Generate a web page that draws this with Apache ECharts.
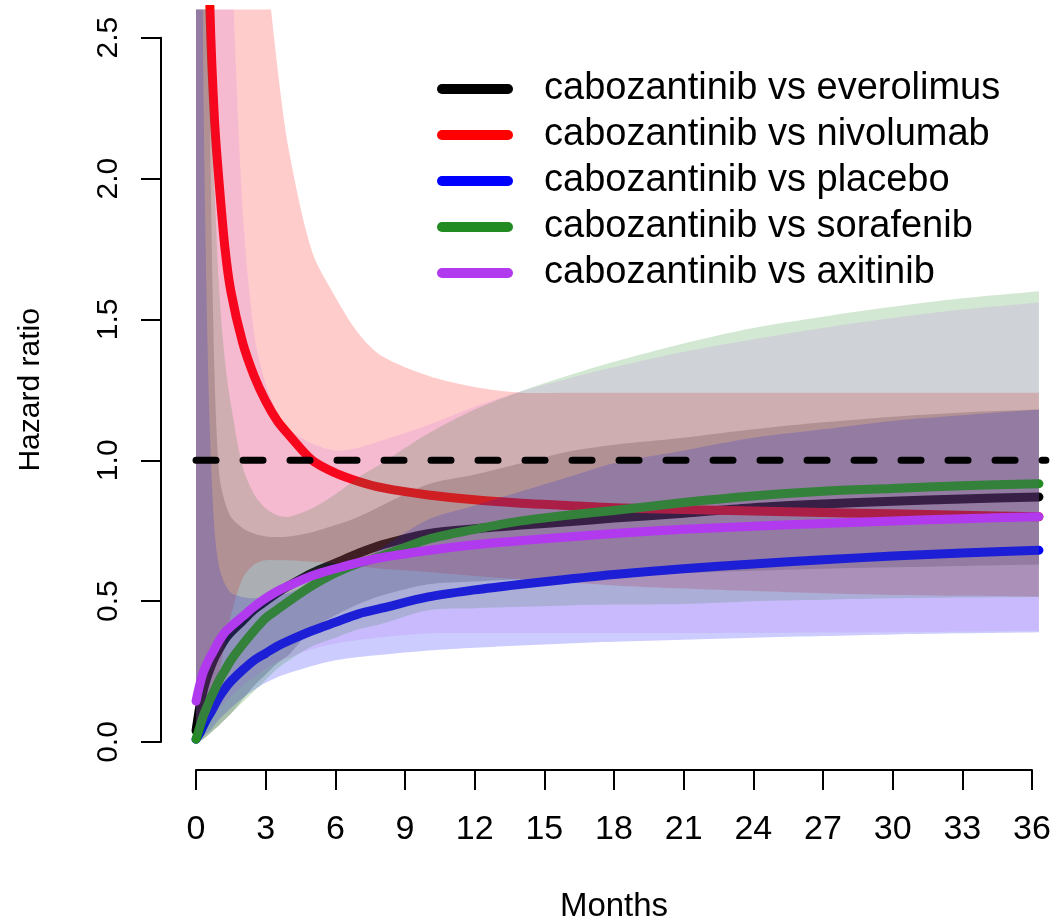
<!DOCTYPE html>
<html>
<head>
<meta charset="utf-8">
<script src="https://cdn.jsdelivr.net/npm/echarts@6/dist/echarts.min.js"></script>
<style>
  html, body { margin: 0; background: #fff; }
  #chart { width: 1064px; height: 919px; }
</style>
</head>
<body>
<div id="chart"></div>
<script>
const months = [0, 0.15, 0.3, 0.45, 0.6, 0.8, 1, 1.25, 1.5, 2, 2.5, 3, 3.5, 4, 5, 6, 7, 8, 10, 12, 14, 16, 18, 21, 24, 27, 30, 33, 36.3];

const xTicks = [0, 3, 6, 9, 12, 15, 18, 21, 24, 27, 30, 33, 36];
const yTicks = [0, 0.5, 1, 1.5, 2, 2.5];
const refHR = 1;
const refSpan = [0, 36.6];

const names = [
  'cabozantinib vs everolimus',
  'cabozantinib vs nivolumab',
  'cabozantinib vs placebo',
  'cabozantinib vs sorafenib',
  'cabozantinib vs axitinib'
];
const colors = ['#000000', '#ff0000', '#0000ff', '#228b22', '#b23aee'];

// hazard ratio curves
const hrEverolimus = [0.04, 0.12, 0.18, 0.225, 0.26, 0.3, 0.33, 0.365, 0.39, 0.43, 0.47, 0.5, 0.53, 0.555, 0.6, 0.635, 0.67, 0.70, 0.74, 0.757, 0.77, 0.782, 0.795, 0.812, 0.832, 0.845, 0.855, 0.863, 0.87];
const hrNivolumab = [null, 9, 4.8, 3.3, 2.6, 2.2, 1.98, 1.75, 1.6, 1.42, 1.3, 1.21, 1.14, 1.09, 1.0, 0.955, 0.925, 0.903, 0.877, 0.86, 0.848, 0.84, 0.832, 0.825, 0.82, 0.815, 0.81, 0.805, 0.80];
const hrPlacebo = [0.01, 0.03, 0.055, 0.08, 0.1, 0.13, 0.16, 0.19, 0.215, 0.255, 0.29, 0.315, 0.34, 0.36, 0.395, 0.425, 0.455, 0.475, 0.515, 0.54, 0.56, 0.578, 0.595, 0.615, 0.632, 0.647, 0.66, 0.671, 0.681];
const hrSorafenib = [0.01, 0.05, 0.09, 0.12, 0.15, 0.185, 0.22, 0.255, 0.29, 0.345, 0.395, 0.44, 0.47, 0.5, 0.555, 0.6, 0.635, 0.66, 0.72, 0.755, 0.785, 0.805, 0.822, 0.85, 0.873, 0.89, 0.9, 0.91, 0.917];
const hrAxitinib = [0.145, 0.2, 0.245, 0.275, 0.30, 0.33, 0.36, 0.39, 0.41, 0.445, 0.48, 0.51, 0.535, 0.555, 0.59, 0.615, 0.637, 0.655, 0.68, 0.70, 0.715, 0.728, 0.74, 0.755, 0.766, 0.776, 0.785, 0.793, 0.80];

// 95% bands (lower / upper); values above the plot run off the top
const loEverolimus = [0, 0.005, 0.01, 0.02, 0.03, 0.045, 0.06, 0.08, 0.1, 0.15, 0.2, 0.24, 0.28, 0.31, 0.4, 0.45, 0.49, 0.52, 0.56, 0.57, 0.578, 0.585, 0.59, 0.6, 0.608, 0.615, 0.62, 0.625, 0.63];
const hiEverolimus = [30, 20, 8, 3.5, 2.2, 1.3, 0.95, 0.85, 0.8, 0.76, 0.74, 0.73, 0.728, 0.73, 0.745, 0.77, 0.8, 0.84, 0.915, 0.95, 0.99, 1.03, 1.055, 1.08, 1.11, 1.135, 1.155, 1.17, 1.18];
const loNivolumab = [0.02, 0.04, 0.07, 0.1, 0.13, 0.18, 0.25, 0.35, 0.45, 0.58, 0.63, 0.645, 0.645, 0.645, 0.64, 0.635, 0.625, 0.615, 0.604, 0.59, 0.577, 0.566, 0.556, 0.545, 0.536, 0.528, 0.522, 0.519, 0.516];
const hiNivolumab = [30, 30, 25, 20, 15, 12, 10, 8, 6.5, 4.5, 3.4, 2.8, 2.4, 2.1, 1.74, 1.58, 1.45, 1.37, 1.3, 1.26, 1.24, 1.24, 1.24, 1.24, 1.24, 1.24, 1.24, 1.24, 1.24];
const loPlacebo = [0.005, 0.01, 0.02, 0.03, 0.04, 0.06, 0.08, 0.1, 0.12, 0.155, 0.185, 0.21, 0.23, 0.245, 0.27, 0.29, 0.302, 0.31, 0.325, 0.335, 0.343, 0.35, 0.356, 0.363, 0.37, 0.376, 0.382, 0.386, 0.39];
const hiPlacebo = [30, 20, 2.6, 1.6, 1.1, 0.75, 0.62, 0.56, 0.53, 0.515, 0.51, 0.515, 0.52, 0.53, 0.56, 0.6, 0.64, 0.69, 0.79, 0.84, 0.89, 0.94, 0.99, 1.035, 1.08, 1.11, 1.14, 1.16, 1.18];
const loSorafenib = [0, 0.002, 0.01, 0.02, 0.03, 0.045, 0.06, 0.08, 0.1, 0.14, 0.18, 0.22, 0.26, 0.29, 0.34, 0.37, 0.4, 0.42, 0.468, 0.475, 0.48, 0.485, 0.488, 0.49, 0.5, 0.505, 0.51, 0.513, 0.515];
const hiSorafenib = [30, 10, 4, 2.6, 2.3, 1.95, 1.6, 1.35, 1.2, 0.98, 0.88, 0.83, 0.805, 0.8, 0.83, 0.88, 0.94, 0.99, 1.095, 1.18, 1.245, 1.3, 1.35, 1.415, 1.47, 1.51, 1.545, 1.575, 1.60];
const loAxitinib = [0.01, 0.03, 0.05, 0.065, 0.08, 0.1, 0.12, 0.14, 0.16, 0.2, 0.23, 0.26, 0.285, 0.3, 0.33, 0.35, 0.362, 0.372, 0.386, 0.387, 0.387, 0.387, 0.387, 0.387, 0.388, 0.389, 0.39, 0.392, 0.395];
const hiAxitinib = [30, 30, 20, 12, 8, 5.5, 4.2, 3.4, 2.85, 1.9, 1.45, 1.27, 1.17, 1.11, 1.06, 1.035, 1.045, 1.07, 1.125, 1.19, 1.245, 1.29, 1.33, 1.385, 1.43, 1.47, 1.505, 1.535, 1.56];

const curves = [
  { hr: hrEverolimus, lo: loEverolimus, hi: hiEverolimus, alpha: 0.2 },
  { hr: hrNivolumab, lo: loNivolumab, hi: hiNivolumab, alpha: 0.2 },
  { hr: hrPlacebo, lo: loPlacebo, hi: hiPlacebo, alpha: 0.2 },
  { hr: hrSorafenib, lo: loSorafenib, hi: hiSorafenib, alpha: 0.2 },
  { hr: hrAxitinib, lo: loAxitinib, hi: hiAxitinib, alpha: 0.12 }
];

const font = '"Liberation Sans", Arial, sans-serif';
const chart = echarts.init(document.getElementById('chart'));

// one polygon per band: upper edge left to right, lower edge back.
// end points are doubled so the smoothing keeps the side edges straight
function bandItem(c, color) {
  return function (params, api) {
    if (params.dataIndex !== 0) return null;
    const n = months.length;
    const pts = [];
    for (let i = 0; i < n; i++) {
      const p = api.coord([months[i], c.hi[i]]);
      pts.push(p);
      if (i === 0 || i === n - 1) pts.push(p.slice());
    }
    for (let i = n - 1; i >= 0; i--) {
      const p = api.coord([months[i], c.lo[i]]);
      pts.push(p);
      if (i === 0 || i === n - 1) pts.push(p.slice());
    }
    return {
      type: 'polygon',
      shape: { points: pts, smooth: 0.3 },
      style: { fill: color, opacity: c.alpha },
      silent: true
    };
  };
}

// each band is painted, then its curve, so later bands tint earlier curves
const series = [];
curves.forEach((c, k) => {
  series.push({
    name: 'band' + k, type: 'custom', coordinateSystem: 'cartesian2d',
    xAxisIndex: 0, yAxisIndex: 0, clip: true, silent: true, z: 2 + 2 * k,
    renderItem: bandItem(c, colors[k]),
    encode: { x: 0, y: [1, 2] },
    data: months.map((m, i) => [m, c.lo[i], c.hi[i]])
  });
  series.push({
    name: names[k], type: 'line', xAxisIndex: 0, yAxisIndex: 0,
    symbol: 'none', smooth: 0.3, silent: true, z: 3 + 2 * k,
    itemStyle: { color: colors[k] },
    lineStyle: { color: colors[k], width: 9, cap: 'round', join: 'round' },
    data: months.map((m, i) => [m, c.hr[i]])
  });
});

series.push({
  name: 'ref', type: 'line', xAxisIndex: 0, yAxisIndex: 0,
  symbol: 'none', silent: true, z: 20,
  lineStyle: { color: '#000', width: 7, type: [20, 27], cap: 'round' },
  data: refSpan.map(m => [m, refHR])
});

const option = {
  animation: false,
  backgroundColor: '#fff',
  textStyle: { fontFamily: font },
  grid: [
    { left: 161.2, top: 9.6, width: 905.6, height: 760.6, outerBoundsMode: 'none', containLabel: false },
    { left: 196, top: 37.7, width: 836, height: 704.3, outerBoundsMode: 'none', containLabel: false }
  ],
  xAxis: [
    { gridIndex: 0, type: 'value', min: -1.5, max: 37.5, show: false },
    {
      gridIndex: 1, type: 'value', min: 0, max: 36, interval: 3,
      position: 'bottom', offset: 28,
      axisLine: { show: true, onZero: false, lineStyle: { color: '#000', width: 2 } },
      axisTick: { show: true, length: 20, lineStyle: { color: '#000', width: 2 }, customValues: xTicks },
      axisLabel: { color: '#000', fontSize: 34, fontFamily: font, margin: 43, customValues: xTicks },
      splitLine: { show: false },
      name: 'Months', nameLocation: 'middle', nameGap: 120,
      nameTextStyle: { color: '#000', fontSize: 33, fontFamily: font }
    }
  ],
  yAxis: [
    { gridIndex: 0, type: 'value', min: -0.1, max: 2.6, show: false },
    {
      gridIndex: 1, type: 'value', min: 0, max: 2.5, interval: 0.5,
      position: 'left', offset: 35,
      axisLine: { show: true, onZero: false, lineStyle: { color: '#000', width: 2 } },
      axisTick: { show: true, length: 20, lineStyle: { color: '#000', width: 2 }, customValues: yTicks },
      axisLabel: {
        color: '#000', fontSize: 30, fontFamily: font, rotate: 90, margin: 37,
        customValues: yTicks, formatter: v => v.toFixed(1)
      },
      splitLine: { show: false },
      name: 'Hazard ratio', nameLocation: 'middle', nameRotate: 90, nameGap: 115,
      nameTextStyle: { color: '#000', fontSize: 30, fontFamily: font }
    }
  ],
  legend: {
    data: names, orient: 'vertical', left: 432, top: 65, z: 30,
    itemWidth: 76, itemHeight: 10, itemGap: 8, selectedMode: false,
    icon: 'path://M5 0H71A5 5 0 0 1 71 10H5A5 5 0 0 1 5 0Z',
    textStyle: { color: '#000', fontSize: 38, fontFamily: font, padding: [0, 0, 0, 26] }
  },
  series: series
};

chart.setOption(option);
</script>
</body>
</html>
